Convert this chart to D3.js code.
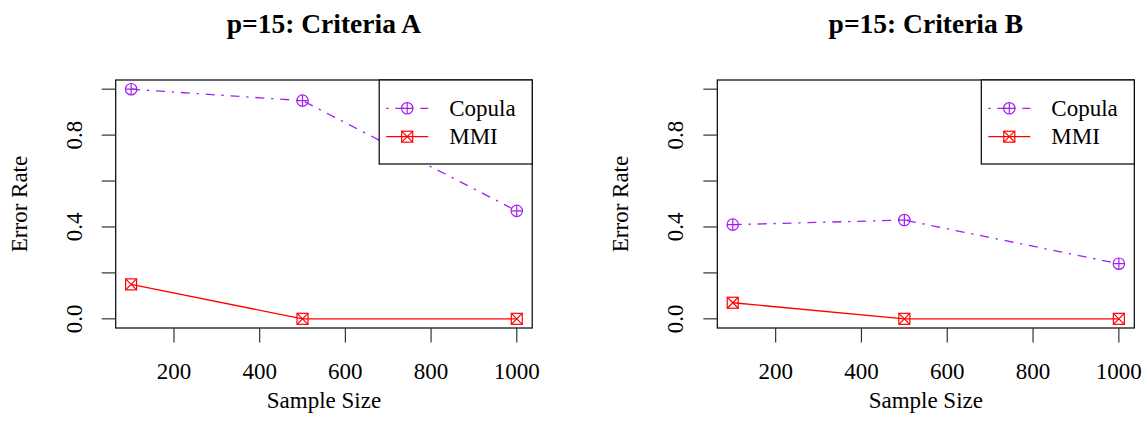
<!DOCTYPE html>
<html>
<head>
<meta charset="utf-8">
<script src="https://cdn.jsdelivr.net/npm/d3@7"></script>
<style>
body { margin: 0; background: #fff; }
text { font-family: "Liberation Serif", "Times New Roman", serif; }
</style>
</head>
<body>
<script>
var sampleSizes = [100, 500, 1000];
var copulaA = [1.0, 0.95, 0.47];
var mmiA = [0.15, 0, 0];
var copulaB = [0.41, 0.43, 0.24];
var mmiB = [0.07, 0, 0];
var xTicks = [200, 400, 600, 800, 1000];
var yTicks = [0, 0.2, 0.4, 0.6, 0.8, 1.0];
var yLabels = [0, 0.4, 0.8];
var titles = ["p=15: Criteria A", "p=15: Criteria B"];
var seriesNames = ["Copula", "MMI"];

var W = 1147, H = 442;
var purple = "#A020F0", red = "#FF0000";
var dotdash = "9,6.8,2.3,6.8";

var svg = d3.select("body").append("svg")
    .attr("width", W)
    .attr("height", H);

function panel(left, right, title, copula, mmi) {
    var x = d3.scaleLinear().domain([64, 1036]).range([left, right]);
    var y = d3.scaleLinear().domain([-0.04, 1.04]).range([328, 80]);
    var g = svg.append("g");

    // box
    g.append("rect")
        .attr("x", left).attr("y", 80)
        .attr("width", right - left).attr("height", 248)
        .attr("fill", "none").attr("stroke", "#000").attr("stroke-width", 1.2);

    // x axis
    g.selectAll(".xt").data(xTicks).enter().append("line")
        .attr("x1", function(d) { return x(d); })
        .attr("x2", function(d) { return x(d); })
        .attr("y1", 328).attr("y2", 342.5)
        .attr("stroke", "#333").attr("stroke-width", 1.2);
    g.selectAll(".xl").data(xTicks).enter().append("text")
        .text(function(d) { return d; })
        .attr("x", function(d) { return x(d); })
        .attr("y", 379)
        .attr("font-size", "23px")
        .attr("text-anchor", "middle");

    // y axis
    g.selectAll(".yt").data(yTicks).enter().append("line")
        .attr("x1", left - 14).attr("x2", left)
        .attr("y1", function(d) { return y(d); })
        .attr("y2", function(d) { return y(d); })
        .attr("stroke", "#333").attr("stroke-width", 1.2);
    g.selectAll(".yl").data(yLabels).enter().append("text")
        .text(function(d) { return d.toFixed(1); })
        .attr("transform", function(d) {
            return "translate(" + (left - 34) + "," + y(d) + ") rotate(-90)";
        })
        .attr("font-size", "23px")
        .attr("text-anchor", "middle");

    // titles
    g.append("text")
        .text(title)
        .attr("x", (left + right) / 2).attr("y", 33)
        .attr("font-size", "27.5px").attr("font-weight", "bold")
        .attr("text-anchor", "middle");
    g.append("text")
        .text("Sample Size")
        .attr("x", (left + right) / 2).attr("y", 408)
        .attr("font-size", "23px")
        .attr("text-anchor", "middle");
    g.append("text")
        .text("Error Rate")
        .attr("transform", "translate(" + (left - 89) + "," + y(0.5) + ") rotate(-90)")
        .attr("font-size", "23px")
        .attr("text-anchor", "middle");

    var line = d3.line()
        .x(function(d, i) { return x(sampleSizes[i]); })
        .y(function(d) { return y(d); });

    g.append("path").datum(copula)
        .attr("d", line)
        .attr("fill", "none").attr("stroke", purple).attr("stroke-width", 1.3)
        .attr("stroke-dasharray", dotdash);
    g.append("path").datum(mmi)
        .attr("d", line)
        .attr("fill", "none").attr("stroke", red).attr("stroke-width", 1.3);

    copula.forEach(function(d, i) { circlePlus(g, x(sampleSizes[i]), y(d)); });
    mmi.forEach(function(d, i) { squareX(g, x(sampleSizes[i]), y(d)); });

    // legend
    var lx = right - 153, ly = 80;
    g.append("rect")
        .attr("x", lx).attr("y", ly)
        .attr("width", 153).attr("height", 84)
        .attr("fill", "#fff").attr("stroke", "#000").attr("stroke-width", 1.2);
    var rows = [108.3, 136.7];
    g.append("line")
        .attr("x1", lx + 7).attr("x2", lx + 49)
        .attr("y1", rows[0]).attr("y2", rows[0])
        .attr("stroke", purple).attr("stroke-width", 1.3)
        .attr("stroke-dasharray", "2.3,6.8,9,6.8");
    g.append("line")
        .attr("x1", lx + 7).attr("x2", lx + 49)
        .attr("y1", rows[1]).attr("y2", rows[1])
        .attr("stroke", red).attr("stroke-width", 1.3);
    circlePlus(g, lx + 28, rows[0]);
    squareX(g, lx + 28, rows[1]);
    g.selectAll(".lg").data(seriesNames).enter().append("text")
        .text(function(d) { return d; })
        .attr("x", lx + 70)
        .attr("y", function(d, i) { return rows[i] + 7.5; })
        .attr("font-size", "23px");
}

function circlePlus(g, cx, cy) {
    var r = 5.7;
    g.append("circle").attr("cx", cx).attr("cy", cy).attr("r", r)
        .attr("fill", "none").attr("stroke", purple).attr("stroke-width", 1.2);
    g.append("path")
        .attr("d", "M" + (cx - r) + "," + cy + "H" + (cx + r) + "M" + cx + "," + (cy - r) + "V" + (cy + r))
        .attr("stroke", purple).attr("stroke-width", 1.2);
}

function squareX(g, cx, cy) {
    var s = 5.5;
    g.append("rect").attr("x", cx - s).attr("y", cy - s)
        .attr("width", 2 * s).attr("height", 2 * s)
        .attr("fill", "none").attr("stroke", red).attr("stroke-width", 1.2);
    g.append("path")
        .attr("d", "M" + (cx - s) + "," + (cy - s) + "L" + (cx + s) + "," + (cy + s) +
                   "M" + (cx + s) + "," + (cy - s) + "L" + (cx - s) + "," + (cy + s))
        .attr("stroke", red).attr("stroke-width", 1.2);
}

panel(115.7, 532.2, titles[0], copulaA, mmiA);
panel(717.3, 1134.3, titles[1], copulaB, mmiB);
</script>
</body>
</html>
